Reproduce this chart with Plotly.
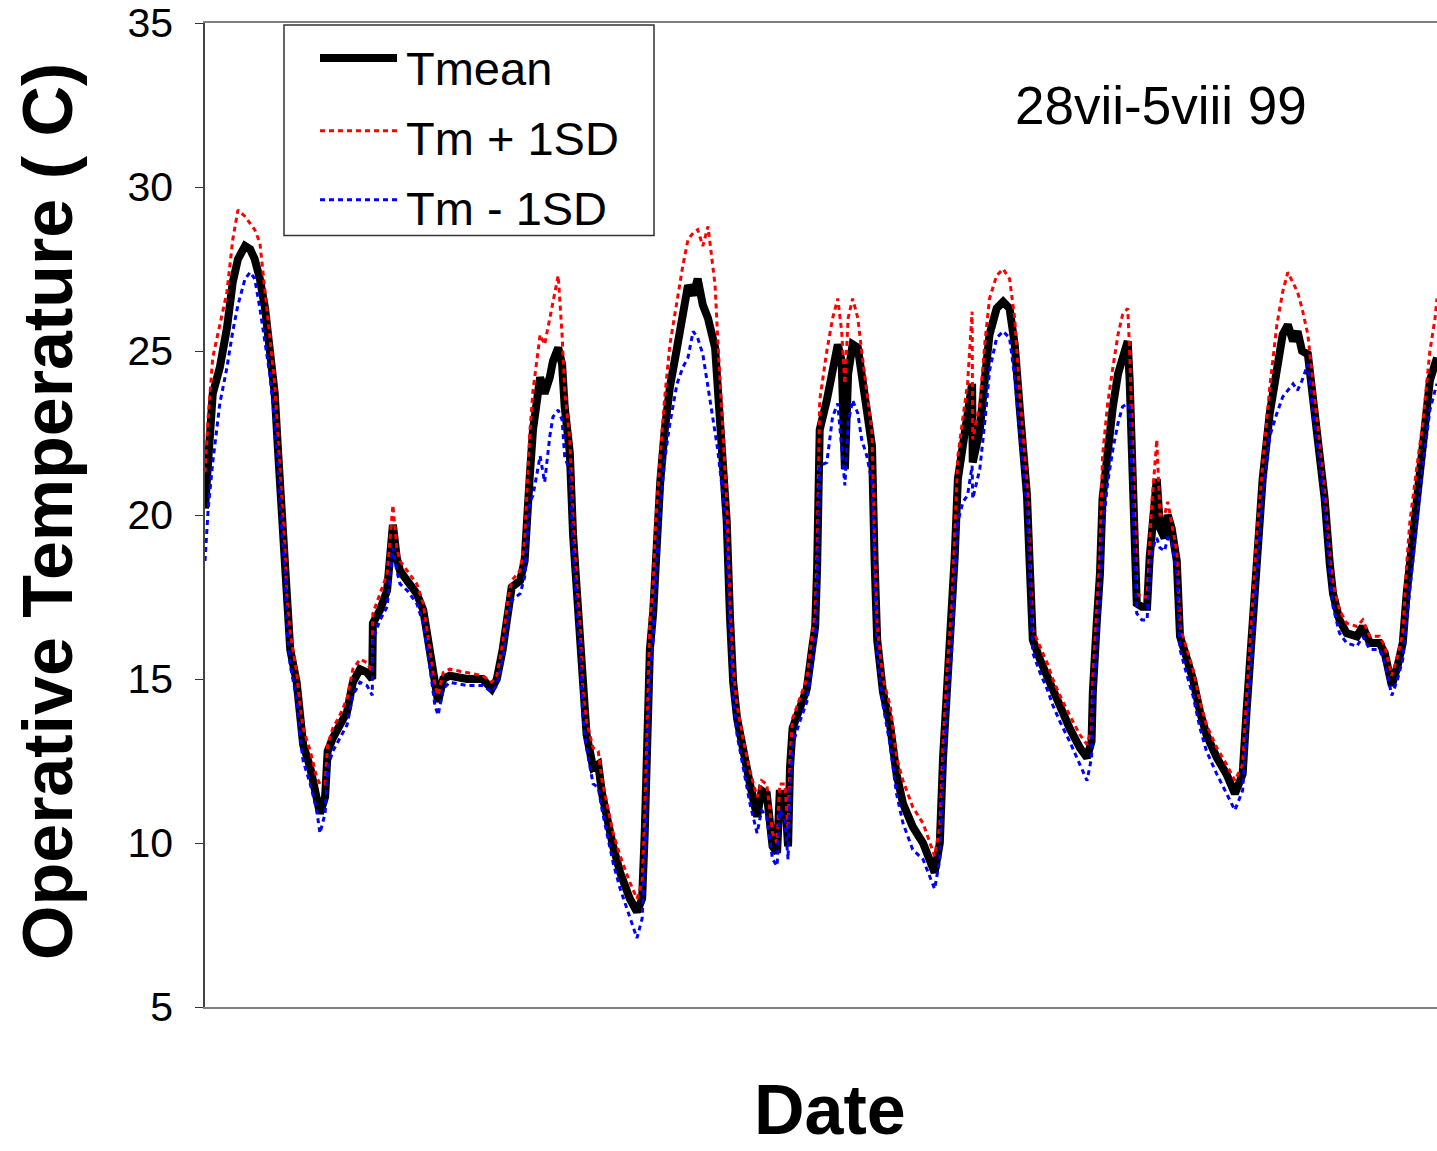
import plotly.graph_objects as go

# Elapsed time since the start of the logging period (hours), 28 Jul - 5 Aug 1999
hours = [
    0.0, 0.5, 1.2, 2.3, 3.4, 4.3, 5.1, 6.2, 7.0, 7.7, 8.5, 9.3, 10.1, 10.8, 11.3, 11.9, 12.4,
    12.7, 13.2, 14.2, 14.7, 15.2, 16.3, 17.3, 17.8, 18.6, 19.0, 19.8, 20.9, 22.0, 22.9, 24.0,
    25.1, 25.9, 26.0, 27.1, 28.2, 29.1, 29.7, 30.2, 31.3, 32.8, 33.8, 34.8, 35.6, 36.1, 36.9,
    37.9, 40.6, 43.0, 44.4, 45.2, 46.1, 46.9, 47.5, 48.8, 49.5,
    50.3, 50.8, 51.9, 52.6, 53.4, 53.9, 54.7, 55.3, 55.7, 56.5, 57.0, 57.6, 58.1, 58.5, 59.1,
    60.1, 60.9, 61.5, 62.2, 63.2, 64.3, 65.8, 66.9, 67.7, 68.1, 68.4, 68.6, 68.9, 69.4, 69.8,
    70.5, 71.2, 72.0, 73.1, 74.0, 74.8, 75.6, 76.3, 77.1, 77.9, 79.0, 79.4, 80.1, 80.8,
    81.3, 81.8, 82.4, 83.3, 84.4, 85.5, 86.2, 87.0, 87.9, 88.6, 89.0, 89.8, 90.3, 90.6, 91.0,
    92.1, 93.2, 94.0, 94.5, 94.8, 95.0, 95.2,
    96.3, 97.2, 98.0, 98.6, 99.1, 99.6, 100.3, 101.1, 101.7, 102.5, 103.3, 103.7,
    104.1, 105.0, 106.1, 107.1, 108.1, 109.6, 111.2, 113.0, 113.8, 114.3, 114.9, 115.7, 116.1,
    116.6, 117.4, 118.1, 118.8, 118.9, 120.0, 120.8, 121.5, 122.6, 123.6, 124.6, 125.4, 126.2,
    127.3, 127.7,
    128.2, 129.3, 130.4, 131.3, 132.4, 133.9, 135.5, 136.6, 137.3, 137.5, 138.1, 138.6,
    139.0, 139.8, 140.6, 141.4, 142.1, 142.9, 143.2, 143.7, 144.0, 144.3, 145.1, 145.9, 146.3,
    146.6, 147.1, 147.4, 147.9, 148.6, 149.1, 149.7, 150.5, 151.0,
    152.1, 153.0, 154.1, 155.1, 156.7, 158.2, 159.5, 160.7, 161.3, 161.8, 162.3, 162.9,
    163.8, 164.9, 166.0, 166.9, 167.7, 168.5, 169.2, 169.9, 170.8, 171.6, 172.6, 173.4, 174.2,
    174.7, 175.7, 176.8, 178.4, 179.3, 180.4, 181.9, 182.7, 183.2, 183.8, 184.7, 185.5, 186.1,
    186.6, 187.7, 188.6, 189.7, 190.5, 190.8,
]

# Mean operative temperature (C)
t_mean = [
    20.2, 22.0, 23.7, 24.5, 25.7, 27.1, 27.8, 28.2, 28.1, 27.8, 27.2, 26.3, 25.1, 23.7, 22.0, 20.0, 18.5,
    16.9, 15.9, 14.9, 13.8, 13.0, 12.3, 11.5, 10.9, 11.4, 12.8, 13.2, 13.6, 14.0, 14.9, 15.3,
    15.2, 15.0, 16.7, 17.1, 17.7, 19.7, 18.7, 18.3, 18.0, 17.6, 17.1, 15.7, 14.6, 14.3, 15.0,
    15.1, 15.0, 15.0, 14.7, 15.0, 15.9, 17.1, 17.8, 18.0, 18.6,
    21.2, 22.6, 24.2, 23.7, 24.2, 24.7, 25.1, 24.6, 23.3, 21.9, 19.4, 17.4, 16.2, 14.3, 13.3,
    12.3, 12.4, 11.5, 10.8, 9.9, 9.1, 8.3, 7.9, 8.3, 10.3, 12.3, 14.3, 15.9, 17.0, 19.0,
    21.0, 22.6, 23.9, 25.1, 26.3, 27.0, 26.7, 27.2, 26.4, 26.0, 25.1, 23.9, 21.9, 19.8,
    16.9, 14.9, 13.8, 12.8, 11.8, 10.8, 11.6, 11.5, 9.9, 9.7, 11.5, 11.5, 9.9, 12.3, 13.5,
    14.1, 14.7, 15.9, 16.6, 18.4, 20.4, 22.6,
    23.5, 24.3, 25.2, 24.7, 21.4, 24.3, 25.2, 25.1, 24.2, 23.2, 22.1, 18.6,
    16.2, 14.6, 13.6, 12.1, 11.2, 10.5, 10.0, 9.1, 10.0, 12.6, 14.6, 16.7, 18.7,
    21.1, 22.2, 22.9, 24.0, 21.6, 22.6, 24.2, 25.5, 26.3, 26.5, 26.3, 25.2, 23.2,
    20.6, 18.6,
    16.2, 15.6, 15.1, 14.6, 14.1, 13.5, 12.9, 12.6, 13.1, 14.6, 16.7, 18.2,
    20.5, 22.1, 23.3, 24.3, 24.8, 25.3, 24.1, 21.0, 19.5, 17.3, 17.2, 17.2, 18.7,
    19.6, 20.8, 21.1, 19.6, 19.3, 20.0, 19.6, 18.6, 16.3,
    15.6, 15.0, 14.0, 13.3, 12.6, 12.1, 11.5, 12.1, 14.0, 15.6, 17.1, 18.8,
    21.1, 23.1, 24.5, 25.5, 25.8, 25.3, 25.6, 25.0, 24.9, 23.6, 22.0, 20.5, 18.5,
    17.6, 16.8, 16.4, 16.3, 16.6, 16.1, 16.1, 15.8, 15.3, 14.8, 15.4, 16.1, 17.6,
    18.6, 20.5, 22.1, 24.1, 24.6, 24.8,
]

# Mean plus one standard deviation (C)
t_plus_sd = [
    21.3, 23.0, 24.8, 25.8, 26.8, 28.4, 29.3, 29.1, 28.9, 28.7, 28.3, 26.8, 25.4, 24.0, 22.4, 20.5, 18.9,
    17.4, 16.4, 15.2, 14.2, 13.5, 12.8, 12.0, 11.8, 11.8, 13.0, 13.5, 13.9, 14.4, 15.3, 15.6,
    15.5, 15.2, 17.0, 17.6, 18.2, 20.3, 19.0, 18.6, 18.3, 17.9, 17.3, 15.9, 14.8, 14.5, 15.2,
    15.3, 15.2, 15.1, 14.9, 15.1, 16.1, 17.4, 18.0, 18.3, 19.2,
    22.5, 23.8, 25.5, 25.2, 26.0, 26.5, 27.3, 25.5, 23.8, 22.3, 19.9, 17.8, 16.6, 14.7, 13.7,
    12.9, 12.8, 11.9, 11.2, 10.3, 9.6, 8.8, 8.3, 8.8, 10.8, 12.9, 15.0, 16.8, 17.8, 19.8,
    21.8, 23.6, 25.2, 26.5, 27.6, 28.4, 28.6, 28.7, 28.2, 28.8, 27.0, 25.4, 23.0, 20.4,
    17.3, 15.3, 14.2, 13.2, 12.2, 11.4, 11.9, 11.8, 10.3, 10.0, 11.8, 11.8, 10.4, 12.6, 13.8,
    14.4, 15.0, 16.3, 17.0, 19.0, 21.3, 23.5,
    25.0, 26.0, 26.6, 25.6, 24.0, 26.0, 26.6, 26.0, 25.0, 23.7, 22.5, 19.0,
    16.6, 15.0, 14.2, 12.6, 11.9, 11.1, 10.6, 9.6, 10.5, 13.0, 15.2, 17.4, 19.5,
    21.8, 23.0, 24.0, 26.2, 22.3, 23.4, 25.3, 26.6, 27.3, 27.5, 27.2, 26.0, 23.6,
    21.0, 18.9,
    16.5, 16.0, 15.5, 15.0, 14.5, 13.9, 13.3, 13.0, 13.5, 15.0, 17.2, 18.8,
    21.8, 23.4, 24.5, 25.5, 26.1, 26.3, 25.0, 22.0, 20.0, 17.6, 17.5, 17.5, 19.2,
    20.3, 21.5, 22.3, 20.0, 20.0, 20.4, 19.8, 18.9, 16.6,
    15.9, 15.3, 14.3, 13.6, 12.9, 12.4, 11.9, 12.4, 14.4, 16.0, 17.6, 19.4,
    21.5, 23.9, 25.8, 26.8, 27.4, 27.1, 26.8, 26.3, 25.5, 24.0, 22.2, 20.7, 18.7,
    17.9, 17.1, 16.7, 16.6, 16.8, 16.3, 16.3, 16.0, 15.6, 15.1, 15.7, 16.4, 18.5,
    19.8, 21.5, 22.8, 25.0, 26.0, 26.6,
]

# Mean minus one standard deviation (C)
t_minus_sd = [
    18.6, 20.2, 21.6, 23.4, 24.5, 25.6, 26.4, 27.2, 27.4, 27.2, 26.3, 25.3, 24.2, 22.8, 21.5, 19.5, 18.2,
    16.5, 15.4, 14.4, 13.3, 12.5, 11.8, 11.0, 10.3, 10.9, 12.3, 12.8, 13.2, 13.6, 14.5, 14.9,
    14.8, 14.5, 16.2, 16.8, 17.2, 19.0, 18.3, 17.9, 17.7, 17.3, 16.7, 15.4, 14.2, 13.9, 14.7,
    14.9, 14.8, 14.8, 14.6, 14.8, 15.6, 16.8, 17.4, 17.6, 18.1,
    20.4, 20.6, 21.8, 21.0, 22.4, 23.0, 23.2, 22.9, 21.8, 21.3, 19.0, 17.0, 15.8, 13.9, 12.9,
    11.8, 11.7, 11.0, 10.3, 9.4, 8.6, 7.7, 7.1, 7.7, 9.5, 11.5, 13.5, 15.0, 16.2, 18.1,
    20.2, 21.7, 22.8, 24.0, 24.5, 24.8, 25.6, 25.4, 24.9, 23.9, 22.6, 22.0, 20.8, 19.2,
    16.4, 14.4, 13.3, 12.3, 11.2, 10.3, 11.0, 10.8, 9.5, 9.3, 11.0, 10.7, 9.5, 11.6, 13.0,
    13.7, 14.3, 15.4, 16.1, 17.6, 19.5, 21.5,
    21.6, 23.0, 23.4, 22.0, 20.9, 22.8, 23.5, 23.1, 22.3, 21.8, 21.0, 18.2,
    15.8, 14.2, 13.0, 11.5, 10.6, 9.8, 9.5, 8.6, 9.5, 12.0, 14.0, 16.1, 18.0,
    19.8, 20.4, 20.6, 21.5, 20.5, 21.4, 22.9, 24.4, 25.4, 25.6, 25.4, 24.2, 22.5,
    20.2, 18.3,
    15.8, 15.2, 14.7, 14.2, 13.7, 13.1, 12.4, 11.9, 12.6, 14.1, 16.0, 17.5,
    19.5, 21.0, 22.0, 22.8, 23.3, 23.4, 23.3, 20.5, 19.0, 17.0, 16.8, 16.8, 18.2,
    18.8, 19.2, 19.3, 19.0, 18.9, 19.3, 19.2, 18.2, 15.9,
    15.1, 14.5, 13.5, 12.8, 12.1, 11.5, 11.0, 11.6, 13.4, 15.0, 16.5, 18.2,
    20.5, 22.4, 23.1, 23.6, 23.8, 24.0, 23.8, 24.1, 24.6, 23.1, 21.7, 20.2, 18.2,
    17.2, 16.4, 16.1, 16.0, 16.3, 15.9, 15.9, 15.5, 15.0, 14.5, 15.0, 15.6, 16.8,
    17.8, 19.8, 21.5, 23.2, 23.8, 24.0,
]

y_ticks = [5, 10, 15, 20, 25, 30, 35]
series_names = ["Tmean", "Tm + 1SD", "Tm - 1SD"]
period_label = "28vii-5viii 99"

FONT = "Liberation Sans, Arial, Helvetica, sans-serif"
W, H = 1437, 1151
M_L, M_R, M_T, M_B = 205, 0, 21, 144
PW, PH = W - M_L - M_R, H - M_T - M_B


def px_x(p):
    """Horizontal page pixel -> paper fraction."""
    return (p - M_L) / PW


def px_y(p):
    """Vertical page pixel -> paper fraction."""
    return (H - M_B - p) / PH


mean_style = dict(color="#000000", width=8)
plus_style = dict(color="#FF0000", width=3, dash="5px,4px")
minus_style = dict(color="#0000FF", width=3, dash="5px,4px")

fig = go.Figure()
fig.add_trace(go.Scatter(x=hours, y=t_mean, mode="lines", name=series_names[0],
                         line=mean_style, showlegend=False))
fig.add_trace(go.Scatter(x=hours, y=t_plus_sd, mode="lines", name=series_names[1],
                         line=plus_style, showlegend=False))
fig.add_trace(go.Scatter(x=hours, y=t_minus_sd, mode="lines", name=series_names[2],
                         line=minus_style, showlegend=False))

# Boxed legend with long line samples
shapes = [
    dict(type="rect", xref="paper", yref="paper",
         x0=px_x(284), x1=px_x(654), y0=px_y(234), y1=px_y(23),
         line=dict(color="#333333", width=1.5), fillcolor="white", layer="above"),
]
annotations = []
legend_rows = [(56, 67, mean_style), (129, 137, plus_style), (198, 207, minus_style)]
for name, (ly, ty, style) in zip(series_names, legend_rows):
    shapes.append(dict(type="line", xref="paper", yref="paper",
                       x0=px_x(320), x1=px_x(397), y0=px_y(ly), y1=px_y(ly),
                       line=style, layer="above"))
    annotations.append(dict(text=name, xref="paper", yref="paper",
                            x=px_x(404), y=px_y(ty), xanchor="left", yanchor="middle",
                            showarrow=False, font=dict(family=FONT, size=47, color="black")))

annotations.append(dict(text=period_label, xref="paper", yref="paper",
                        x=px_x(1161), y=px_y(104), xanchor="center", yanchor="middle",
                        showarrow=False, font=dict(family=FONT, size=53, color="black")))
annotations.append(dict(text="<b>Operative Temperature ( C)</b>", xref="paper", yref="paper",
                        x=px_x(48), y=px_y(511), xanchor="center", yanchor="middle",
                        textangle=-90, showarrow=False,
                        font=dict(family=FONT, size=70, color="black")))
annotations.append(dict(text="<b>Date</b>", xref="paper", yref="paper",
                        x=px_x(830), y=px_y(1110), xanchor="center", yanchor="middle",
                        showarrow=False, font=dict(family=FONT, size=70, color="black")))

fig.update_layout(
    width=W, height=H,
    margin=dict(l=M_L, r=M_R, t=M_T, b=M_B, pad=0),
    paper_bgcolor="white", plot_bgcolor="white",
    font=dict(family=FONT, color="black"),
    shapes=shapes, annotations=annotations,
    showlegend=False,
)
fig.update_xaxes(range=[0, 190.8], showgrid=False, zeroline=False,
                 showticklabels=False, ticks="",
                 showline=True, mirror=True, linecolor="#808080", linewidth=2)
fig.update_yaxes(range=[5, 35.0001], tickvals=y_ticks, showgrid=False, zeroline=False,
                 ticks="outside", ticklen=8, tickwidth=1, tickcolor="#333333",
                 ticklabelstandoff=14, ticklabeloverflow="allow",
                 tickfont=dict(family=FONT, size=41, color="black"),
                 showline=True, linecolor="#444444", linewidth=1.5)

fig.write_html("out.html")
